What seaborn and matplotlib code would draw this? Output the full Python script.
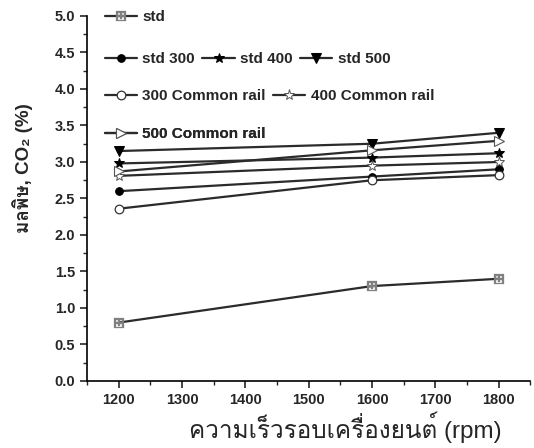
import matplotlib
matplotlib.use("Agg")
import matplotlib.pyplot as plt
from matplotlib import font_manager
from matplotlib.ft2font import FT2Font
from matplotlib.ticker import MultipleLocator, FormatStrFormatter
import seaborn as sns
import pandas as pd

rpm = [1200, 1600, 1800]
series_names = ["std", "std 300", "std 400", "std 500",
                "300 Common rail", "400 Common rail", "500 Common rail"]
std_vals = [0.80, 1.30, 1.40]
std300_vals = [2.60, 2.80, 2.90]
std400_vals = [2.98, 3.06, 3.12]
std500_vals = [3.15, 3.25, 3.40]
cr300_vals = [2.36, 2.75, 2.82]
cr400_vals = [2.81, 2.95, 3.00]
cr500_vals = [2.87, 3.16, 3.29]
all_vals = [std_vals, std300_vals, std400_vals, std500_vals,
            cr300_vals, cr400_vals, cr500_vals]

xlabel_text = "ความเร็วรอบเครื่องยนต์ (rpm)"
ylabel_text = "มลพิษ, CO₂ (%)"

# find an installed font that covers Thai
thai_family = None
for f in font_manager.fontManager.ttflist:
    try:
        cmap = FT2Font(f.fname).get_charmap()
    except Exception:
        continue
    if 0x0E21 in cmap and 0x0E34 in cmap:
        thai_family = f.name
        break

sns.set_style("ticks")
fams = ["Liberation Sans"] + ([thai_family] if thai_family else []) + ["DejaVu Sans"]
plt.rcParams["font.family"] = fams

rows = []
for name, vals in zip(series_names, all_vals):
    for x, v in zip(rpm, vals):
        rows.append({"rpm": x, "val": v, "series": name})
df = pd.DataFrame(rows)

fig = plt.figure(figsize=(5.34, 4.48), dpi=100)
ax = fig.add_axes([0.163, 0.1496, 0.83, 0.8147])

lc = "#2b2b2b"
styles = {
    "std": dict(marker=r"$\boxplus$", markersize=6.5, markerfacecolor="#808080",
                markeredgecolor="#808080", markeredgewidth=0.2),
    "std 300": dict(marker="o", markersize=5.5, markerfacecolor="black", markeredgecolor="black"),
    "std 400": dict(marker="*", markersize=7.5, markerfacecolor="black", markeredgecolor="black"),
    "std 500": dict(marker="v", markersize=6.5, markerfacecolor="black", markeredgecolor="black"),
    "300 Common rail": dict(marker="o", markersize=6.2, markerfacecolor="white", markeredgecolor="#333333", markeredgewidth=0.9),
    "400 Common rail": dict(marker="*", markersize=8, markerfacecolor="white", markeredgecolor="#555555", markeredgewidth=0.7),
    "500 Common rail": dict(marker=">", markersize=6.5, markerfacecolor="white", markeredgecolor="#555555", markeredgewidth=0.8),
}

handles = {}
for name in series_names:
    sub = df[df["series"] == name]
    sns.lineplot(data=sub, x="rpm", y="val", ax=ax, color=lc, linewidth=1.6,
                 label=name, **styles[name])
handles_list, labels_list = ax.get_legend_handles_labels()
for h, l in zip(handles_list, labels_list):
    handles[l] = h
if ax.get_legend() is not None:
    ax.get_legend().remove()

ax.set_xlim(1150, 1850)
ax.set_ylim(0, 5.0)
ax.xaxis.set_major_locator(MultipleLocator(100))
ax.xaxis.set_minor_locator(MultipleLocator(50))
ax.yaxis.set_major_locator(MultipleLocator(0.5))
ax.yaxis.set_minor_locator(MultipleLocator(0.25))
ax.yaxis.set_major_formatter(FormatStrFormatter("%.1f"))
ax.tick_params(which="major", direction="out", length=5, width=1.2, labelsize=10.5)
ax.tick_params(which="minor", direction="out", length=3, width=1.0)
for lab in ax.get_xticklabels() + ax.get_yticklabels():
    lab.set_fontweight("bold")
for s in ["left", "bottom"]:
    ax.spines[s].set_linewidth(1.2)
    ax.spines[s].set_color("black")
sns.despine(ax=ax)

ax.set_xlabel(xlabel_text, fontsize=17.5, fontweight="normal")
ax.xaxis.set_label_coords(0.582, -0.083)
ax.set_ylabel(ylabel_text, fontsize=13.5, fontweight="bold")
ax.yaxis.set_label_coords(-0.122, 0.584)

legend_rows = [
    (["std"], 0.997),
    (["std 300", "std 400", "std 500"], 0.882),
    (["300 Common rail", "400 Common rail"], 0.781),
    (["500 Common rail"], 0.676),
]
for names, yy in legend_rows:
    leg = ax.legend([handles[n] for n in names], names, loc="center left",
                    bbox_to_anchor=(0.04, yy), ncol=len(names), frameon=False,
                    prop=dict(family=fams, weight="bold", size=11),
                    handlelength=2.1, handletextpad=0.35, columnspacing=0.5,
                    borderpad=0, borderaxespad=0)
    ax.add_artist(leg)

fig.savefig("out.png", dpi=100)
